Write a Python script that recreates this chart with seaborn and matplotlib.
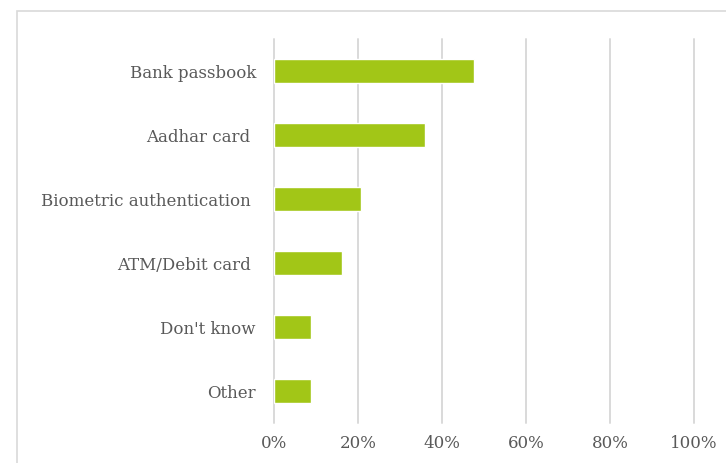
import matplotlib
matplotlib.use("Agg")
import matplotlib.pyplot as plt
from matplotlib.patches import Rectangle
from matplotlib.ticker import PercentFormatter
import seaborn as sns
import pandas as pd

categories = ["Bank passbook", "Aadhar card ", "Biometric authentication ",
              "ATM/Debit card ", "Don't know", "Other"]
shares = [0.477, 0.360, 0.206, 0.162, 0.089, 0.089]
x_ticks = [0, 0.2, 0.4, 0.6, 0.8, 1.0]

df = pd.DataFrame({"category": categories, "share": shares})

sns.set_theme(style="white")
plt.rcParams["font.family"] = ["DejaVu Serif"]

W, H = 726, 463
fig = plt.figure(figsize=(W / 100, H / 100), dpi=100)
ax = fig.add_axes([274 / W, 1 - 423 / H, 420 / W, 384 / H])

sns.barplot(data=df, x="share", y="category", color="#A2C617",
            saturation=1, width=0.36, ax=ax, orient="h")

ax.set_xlim(0, 1)
ax.set_xticks(x_ticks)
ax.xaxis.set_major_formatter(PercentFormatter(1.0, decimals=0))
ax.grid(axis="x", color="#D9D9D9", linewidth=1.4)
for gl in ax.get_xgridlines():
    gl.set_clip_on(False)
ax.set_axisbelow(True)
for s in ax.spines.values():
    s.set_visible(False)
ax.set_xlabel("")
ax.set_ylabel("")
ax.tick_params(axis="both", length=0, labelsize=12, colors="#595959")
ax.tick_params(axis="x", pad=9)
ax.tick_params(axis="y", pad=13)

# chart frame
fig.patches.append(Rectangle((17 / W, -0.1), 1.2, 1 - 11 / H + 0.1,
                             transform=fig.transFigure, fill=False,
                             edgecolor="#D9D9D9", linewidth=1.2))

fig.savefig("out.png", dpi=100, facecolor="white")
